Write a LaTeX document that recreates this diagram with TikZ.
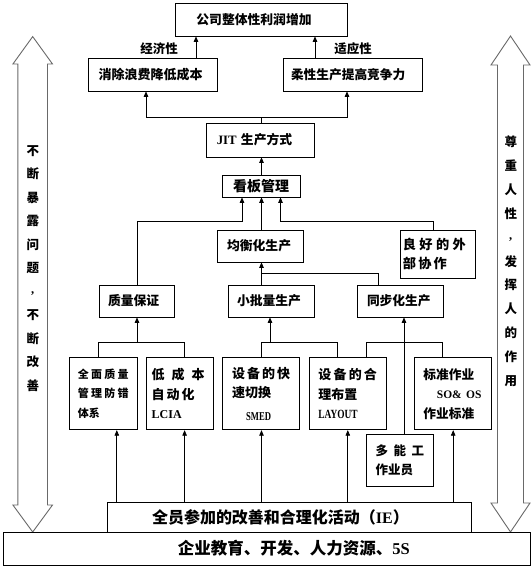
\documentclass[tikz,border=0pt]{standalone}
\usepackage{fontspec}
\usepackage{graphicx}
\setmainfont{Noto Sans CJK SC}
\newfontfamily\lat{Liberation Serif}
\usetikzlibrary{arrows.meta}
\definecolor{arrgray}{RGB}{105,105,105}
\begin{document}
\begin{tikzpicture}[x=1pt,y=-1pt,
  bx/.style={draw=black,line width=0.7pt,inner ysep=0pt,align=left},
  arr/.style={line width=0.7pt,-{Triangle[length=5.5pt,width=4.5pt]}},
  ln/.style={line width=0.7pt},
  dbl/.style={draw=arrgray,line width=0.9pt,fill=white,line join=miter},
  lbl/.style={inner sep=0pt,font=\bfseries\fontsize{12.5}{14}\selectfont},
  vtx/.style={inner sep=0pt,align=center}
]
\fill[white] (0,0) rectangle (531,566);
\useasboundingbox (0,0) rectangle (531,566);

% side double arrows
\draw[dbl] (32.7,36.6) -- (52.5,64) -- (47.5,64) -- (47.5,505) -- (52.5,505) -- (32.7,532) -- (12.9,505) -- (17.9,505) -- (17.9,64) -- (12.9,64) -- cycle;
\draw[dbl] (510.5,36) -- (530,65) -- (523.5,65) -- (523.5,503) -- (530,503) -- (510.5,532) -- (491,503) -- (497.5,503) -- (497.5,65) -- (491,65) -- cycle;
\node[vtx,font=\bfseries\fontsize{12.5}{23.5}\selectfont] (lt) at (32.8,268.2) {不\\断\\暴\\露\\问\\题\\\raisebox{3pt}{\lat\bfseries ,}\\不\\断\\改\\善};
\node[vtx,font=\bfseries\fontsize{12.5}{23.86}\selectfont] (rt) at (510.8,261.3) {尊\\重\\人\\性\\\raisebox{3pt}{\lat\bfseries ,}\\发\\挥\\人\\的\\作\\用};

% boxes
\node[bx,font=\bfseries\fontsize{12.8}{15}\selectfont,minimum height=33pt,inner xsep=21.4pt,text width=129.2pt] (top) at (261,19.5) {公司整体性利润增加};
\node[bx,font=\bfseries\fontsize{13}{15}\selectfont,minimum height=33pt,inner xsep=9.9pt,text width=109pt] (xc) at (153.1,74.5) {消除浪费降低成本};
\node[bx,font=\bfseries\fontsize{12.7}{15}\selectfont,minimum height=33pt,inner xsep=8pt,text width=123pt] (rx) at (352.5,74.5) {柔性生产提高竞争力};
\node[bx,font=\bfseries\fontsize{12.8}{15}\selectfont,minimum height=34pt,inner xsep=10.8pt,text width=86.4pt] (jit) at (260,140) {{\lat\bfseries JIT} 生产方式};
\node[bx,font=\bfseries\fontsize{14}{16}\selectfont,minimum height=22pt,inner xsep=10.5pt,text width=56.5pt] (kb) at (261.25,186) {看板管理};
\node[bx,font=\bfseries\fontsize{12.8}{15}\selectfont,minimum height=32pt,inner xsep=9.3pt,text width=66.7pt] (jh) at (260.4,246) {均衡化生产};
\node[bx,font=\bfseries\fontsize{13.2}{19}\selectfont,minimum height=48.7pt,inner xsep=2.4pt,text width=70.2pt] (lh) at (438,254.4) {\makebox[63pt][s]{良\hfill 好\hfill 的\hfill 外}\\\makebox[44pt][s]{部\hfill 协\hfill 作}};
\node[bx,font=\bfseries\fontsize{12.8}{15}\selectfont,minimum height=32pt,inner xsep=9pt,text width=57.4pt] (zl) at (136.7,301) {质量保证};
\node[bx,font=\bfseries\fontsize{12.8}{15}\selectfont,minimum height=32pt,inner xsep=8.4pt,text width=68.6pt] (xp) at (271.3,301) {小批量生产};
\node[bx,font=\bfseries\fontsize{12.7}{15}\selectfont,minimum height=32pt,inner xsep=9.4pt,text width=66.6pt] (tb) at (400.3,301) {同步化生产};

\node[bx,font=\bfseries\fontsize{11}{19.5}\selectfont,minimum height=72.2pt,inner xsep=8.4pt,text width=50.8pt] (b1) at (103.2,393.7) {\makebox[50.8pt][s]{全\hfill 面\hfill 质\hfill 量}\\\makebox[50.8pt][s]{管\hfill 理\hfill 防\hfill 错}\\体系};
\node[bx,font=\bfseries\fontsize{13}{19.5}\selectfont,minimum height=72.2pt,inner xsep=5pt,text width=56.7pt] (b2) at (180.05,393.7) {\makebox[53pt][s]{低\hfill 成\hfill 本}\\\makebox[43pt][s]{自\hfill 动\hfill 化}\\{\lat\bfseries\fontsize{12}{19.5}\selectfont LCIA}};
\node[bx,font=\bfseries\fontsize{13}{19.5}\selectfont,minimum height=72.2pt,inner xsep=9.6pt,text width=58pt] (b3) at (261.1,393.7) {\makebox[58pt][s]{设\hfill 备\hfill 的\hfill 快}\\速切换\\[3pt]\hspace*{14pt}{\lat\bfseries\fontsize{12}{19.5}\selectfont\scalebox{0.72}[1]{SMED}}};
\node[bx,font=\bfseries\fontsize{13}{19.5}\selectfont,minimum height=72.2pt,inner xsep=8.8pt,text width=58.8pt] (b4) at (347.8,393.7) {\makebox[58.6pt][s]{设\hfill 备\hfill 的\hfill 合}\\理布置\\{\lat\bfseries\fontsize{12.5}{19.5}\selectfont\scalebox{0.75}[1]{LAYOUT}}};
\node[bx,font=\bfseries\fontsize{12.7}{19.5}\selectfont,minimum height=72.2pt,inner xsep=8.8pt,text width=59.6pt] (b5) at (453.2,393.7) {标准作业\\\hspace*{13.5pt}{\lat\bfseries\fontsize{11.5}{19.5}\selectfont SO\& OS}\\作业标准};
\node[bx,font=\bfseries\fontsize{12.5}{18.2}\selectfont,minimum height=52.7pt,inner xsep=8.85pt,text width=48.4pt] (dn) at (399.85,460.35) {\makebox[48.4pt][s]{多\hfill 能\hfill 工}\\作业员};

\node[bx,font=\bfseries\fontsize{16}{18}\selectfont,minimum height=29.4pt,inner xsep=44.3pt,text width=275.2pt] (ie) at (289.6,517.3) {全员参加的改善和合理化活动（{\lat\bfseries IE}）};
\node[bx,align=right,font=\bfseries\fontsize{16.5}{18}\selectfont,minimum height=33pt,inner xsep=120.2pt,text width=286.2pt] (base) at (266.7,548.5) {企业教育、开发、人力资源、{\lat\bfseries 5S}};

% labels
\node[lbl] (l1) at (159,49) {经济性};
\node[lbl] (l2) at (353,49) {适应性};

% helper coordinates
\coordinate (xA) at (196,0);
\coordinate (xB) at (315,0);
\coordinate (xC) at (146,0);
\coordinate (xD) at (347,0);
\coordinate (xM) at (261.5,0);
\coordinate (j1) at (261.5,117);
\coordinate (k1) at (242,221);
\coordinate (k3) at (280.5,221);
\coordinate (xL) at (433,0);
\coordinate (s1) at (261.5,273.7);
\coordinate (xT) at (378.3,0);
\coordinate (q1) at (98.2,342);
\coordinate (q2) at (184.6,342);
\coordinate (qz) at (137,342);
\coordinate (p1) at (261.5,342);
\coordinate (p2) at (337.7,342);
\coordinate (pP) at (270,342);
\coordinate (t1) at (366.8,342);
\coordinate (t2) at (442,342);
\coordinate (tX) at (404,0);
\coordinate (e1) at (116.8,0);
\coordinate (e2) at (184.6,0);
\coordinate (e3) at (261.5,0);
\coordinate (e4) at (347.8,0);
\coordinate (e5) at (453.2,0);

% connectors
\draw[arr] (xc.north -| xA) -- (top.south -| xA);
\draw[arr] (rx.north -| xB) -- (top.south -| xB);
\draw[ln] (jit.north -| j1) -- (j1);
\draw[arr] (j1) -| (xc.south -| xC);
\draw[arr] (j1) -| (rx.south -| xD);
\draw[arr] (kb.north -| xM) -- (jit.south -| xM);
\draw[arr] (zl.north -| qz) |- (k1) -- (kb.south -| k1);
\draw[arr] (jh.north -| xM) -- (kb.south -| xM);
\draw[arr] (lh.north -| xL) |- (k3) -- (kb.south -| k3);
\draw[arr] (xp.north -| xM) -- (jh.south -| xM);
\draw[ln] (s1) -| (tb.north -| xT);
\draw[ln] (b1.north -| q1) -- (q1) -- (q2) -- (b2.north -| q2);
\draw[arr] (qz) -- (zl.south -| qz);
\draw[ln] (b3.north -| p1) -- (p1) -- (p2) -- (b4.north -| p2);
\draw[arr] (pP) -- (xp.south -| pP);
\draw[ln] (b4.north -| t1) -- (t1) -- (t2) -- (b5.north -| t2);
\draw[arr] (dn.north -| tX) -- (tb.south -| tX);
\foreach \b/\e in {b1/e1,b2/e2,b3/e3,b4/e4,b5/e5}
  \draw[arr] (ie.north -| \e) -- (\b.south -| \e);
\end{tikzpicture}
\end{document}
